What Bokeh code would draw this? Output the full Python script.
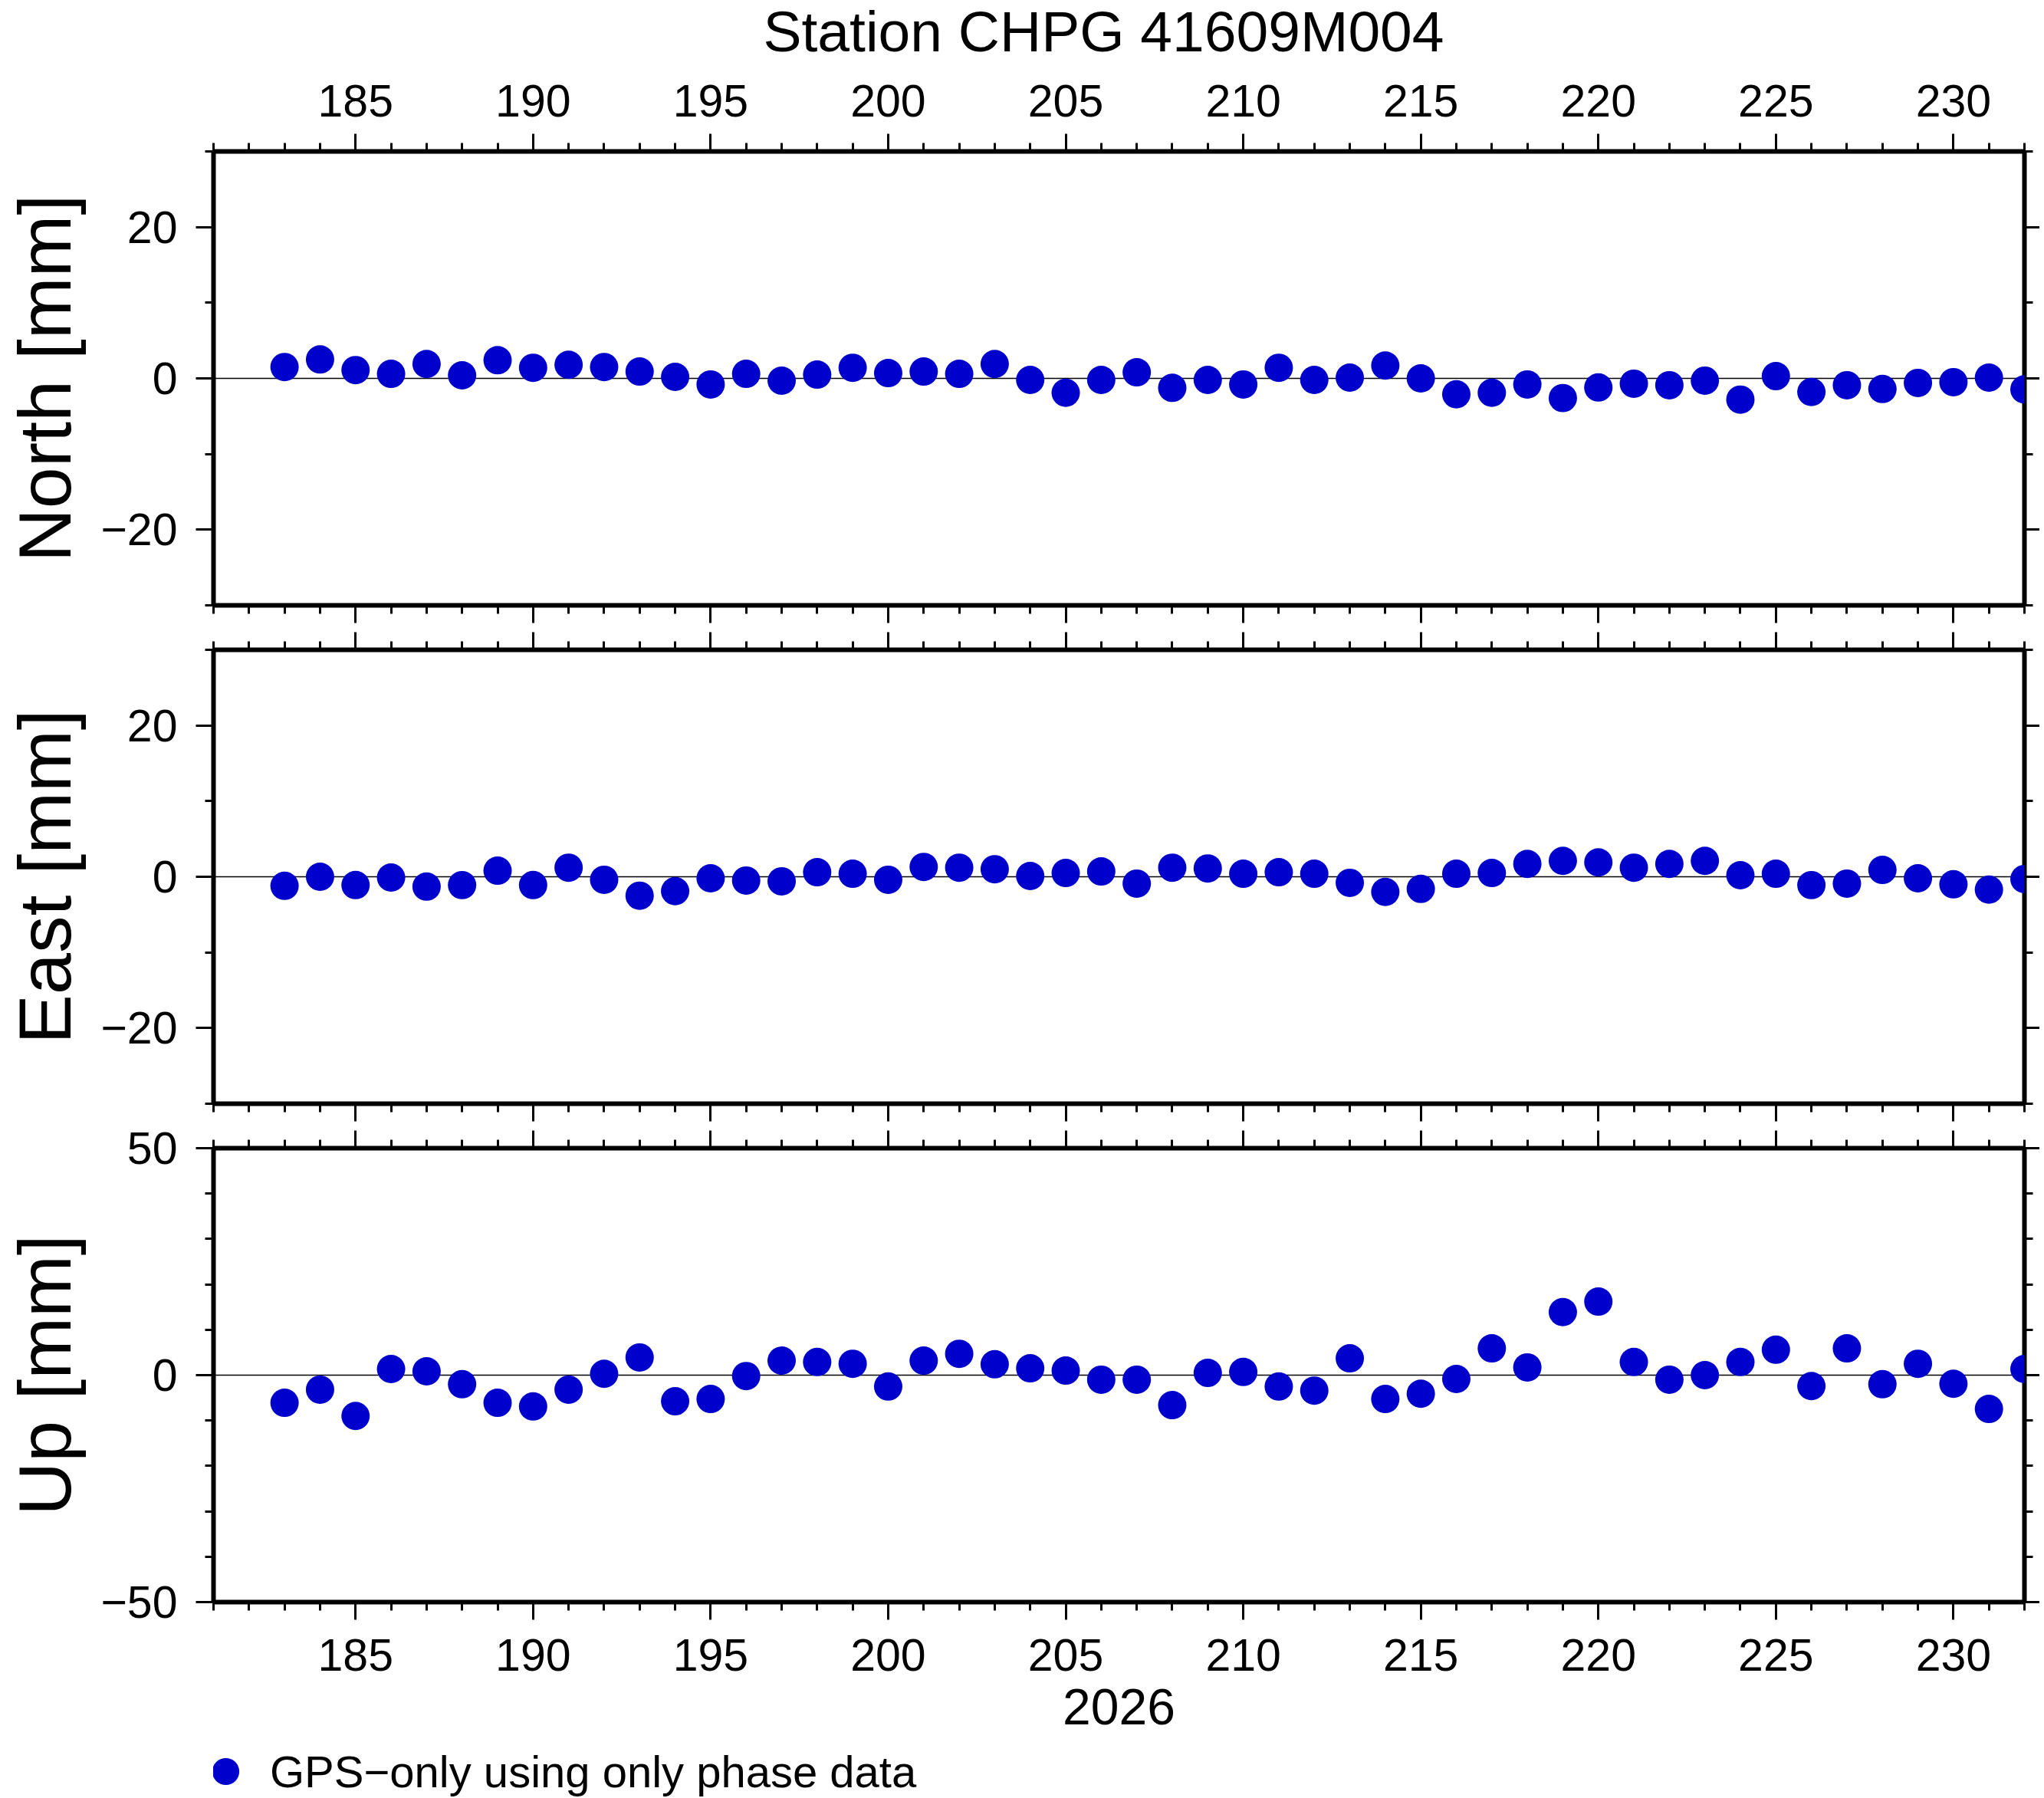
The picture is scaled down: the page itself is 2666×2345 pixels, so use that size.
from bokeh.plotting import figure
from bokeh.models import (Range1d, LinearAxis, SingleIntervalTicker, FixedTicker,
                          Span, Label, Legend, LegendItem)
from bokeh.layouts import column
from bokeh.embed import file_html
from bokeh.resources import INLINE

# ---------------- data ----------------
days = [183, 184, 185, 186, 187, 188, 189, 190, 191, 192, 193, 194, 195, 196, 197, 198, 199,
        200, 201, 202, 203, 204, 205, 206, 207, 208, 209, 210, 211, 212, 213, 214, 215, 216,
        217, 218, 219, 220, 221, 222, 223, 224, 225, 226, 227, 228, 229, 230, 231, 232]

north = [1.5, 2.5, 1.1, 0.6, 1.9, 0.4, 2.4, 1.4, 1.8, 1.5, 0.9, 0.2, -0.8, 0.6, -0.3, 0.5,
         1.4, 0.7, 0.9, 0.6, 1.9, -0.2, -1.9, -0.2,
         0.8, -1.25, -0.2, -0.8, 1.4, -0.2, 0.1, 1.7, 0.0, -2.1, -1.9, -0.8, -2.6, -1.2,
         -0.7, -0.9, -0.3, -2.8, 0.3, -1.8, -0.9, -1.4, -0.6, -0.5, 0.1, -1.45]

east = [-1.2, 0.0, -1.1, -0.1, -1.3, -1.1, 0.8, -1.1, 1.2, -0.4, -2.5, -1.9, -0.2, -0.5,
        -0.6, 0.6, 0.4, -0.4, 1.3, 1.2, 1.0, 0.1, 0.5, 0.7,
        -0.9, 1.2, 1.1, 0.4, 0.6, 0.4, -0.8, -2.0, -1.6, 0.4, 0.5, 1.7, 2.1, 1.9, 1.2, 1.7,
        2.1, 0.2, 0.4, -1.1, -0.9, 0.9, -0.2, -1.0, -1.7, -0.3]

up = [-6.1, -3.2, -9.0, 1.35, 0.85, -2.0, -6.1, -6.9, -3.2, 0.3, 3.9, -5.75, -5.25, -0.2,
      3.2, 2.9, 2.5, -2.5, 3.2, 4.7, 2.4, 1.5, 1.0, -1.0,
      -1.0, -6.6, 0.5, 0.7, -2.5, -3.4, 3.7, -5.25, -4.1, -0.85, 5.9, 1.7, 13.9, 16.2, 2.9,
      -1.0, 0.0, 2.9, 5.6, -2.4, 5.9, -2.0, 2.5, -1.9, -7.45, 1.35]

ne_major = [-20, 0, 20]
ne_minor = [-30, -10, 10, 30]
ne_labels = {-20: "\u221220", 0: "0", 20: "20"}
up_major = [-50, 0, 50]
up_minor = [-40, -30, -20, -10, 10, 20, 30, 40]
up_labels = {-50: "\u221250", 0: "0", 50: "50"}

title_text = "Station CHPG 41609M004"
x_title = "2026"
legend_text = "GPS\u2212only using only phase data"

# ---------------- style / layout ----------------
FONT = "Liberation Sans"
BLUE = "#0000CC"
W = 2660
ML = 278
FRAME_W = 2362
MR = W - ML - FRAME_W
FRAME_H = 592
TITLE_H = 84
P3_BOTTOM = 186
LEG_H = 2344 - (TITLE_H + (197 - TITLE_H) + FRAME_H + 29) - (29 + FRAME_H + 24) - (34 + FRAME_H + P3_BOTTOM)

xr = Range1d(181, 232)


def tick_style(ax, out_major=23, out_minor=11):
    ax.axis_line_color = None
    ax.major_tick_in = 0
    ax.minor_tick_in = 0
    ax.major_tick_out = out_major
    ax.minor_tick_out = out_minor
    ax.major_tick_line_width = 3
    ax.minor_tick_line_width = 3
    ax.major_tick_line_color = "black"
    ax.minor_tick_line_color = "black"


def no_labels(ax):
    ax.major_label_text_font_size = "0px"
    ax.major_label_text_color = None
    ax.major_label_standoff = 0


def strip(height):
    s = figure(width=W, height=height, x_range=xr, output_backend="svg",
               toolbar_location=None, x_axis_location=None, y_axis_location=None,
               min_border_left=ML, min_border_right=MR, min_border_top=0,
               min_border_bottom=0)
    s.grid.visible = False
    s.outline_line_color = None
    s.background_fill_color = "white"
    s.border_fill_color = "white"
    return s


def make_panel(vals, ylo, yhi, ymaj, ymin, ylabels, ylabel, top_b, bot_b,
               top_labels=False, bottom_labels=False):
    p = figure(width=W, height=top_b + FRAME_H + bot_b, x_range=xr,
               y_range=Range1d(ylo, yhi), output_backend="svg",
               toolbar_location=None, x_axis_location=None, y_axis_location=None,
               min_border_left=ML, min_border_right=MR,
               min_border_top=top_b, min_border_bottom=bot_b)
    p.grid.visible = False
    p.outline_line_color = "black"
    p.outline_line_width = 6
    p.outline_line_alpha = 1.0
    p.background_fill_color = "white"
    p.border_fill_color = "white"

    # x axes
    for side, lab in (("above", top_labels), ("below", bottom_labels)):
        ax = LinearAxis(ticker=SingleIntervalTicker(interval=5, num_minor_ticks=5))
        tick_style(ax)
        if lab:
            ax.major_label_text_font = FONT
            ax.major_label_text_font_size = "59px"
            ax.major_label_text_color = "black"
            ax.major_label_standoff = 23 if side == "above" else 25
        else:
            no_labels(ax)
        p.add_layout(ax, side)

    # left axis
    ly = LinearAxis(ticker=FixedTicker(ticks=ymaj, minor_ticks=ymin))
    tick_style(ly)
    ly.major_label_overrides = ylabels
    ly.major_label_text_font = FONT
    ly.major_label_text_font_size = "59px"
    ly.major_label_text_color = "black"
    ly.major_label_standoff = 24
    ly.axis_label = ylabel
    ly.axis_label_text_font = FONT
    ly.axis_label_text_font_size = "97px"
    ly.axis_label_text_font_style = "normal"
    ly.axis_label_text_color = "black"
    ly.axis_label_standoff = 15
    p.add_layout(ly, "left")

    # right axis (ticks only)
    ry = LinearAxis(ticker=FixedTicker(ticks=ymaj, minor_ticks=ymin))
    tick_style(ry, out_major=MR, out_minor=11)
    no_labels(ry)
    p.add_layout(ry, "right")

    p.add_layout(Span(location=0, dimension="width", line_color="black",
                      line_width=1.5, level="underlay"))
    r = p.scatter(days, vals, size=37, marker="circle", fill_color=BLUE,
                  line_color=None)
    return p, r


# title strip
p0 = strip(TITLE_H)
p0.add_layout(Label(x=1161, y=44, x_units="screen", y_units="screen",
                    text=title_text, text_font=FONT, text_font_size="75px",
                    text_color="black", text_align="center",
                    text_baseline="alphabetic"))

p1, _ = make_panel(north, -30, 30, ne_major, ne_minor, ne_labels, "North [mm]",
                   197 - TITLE_H, 29, top_labels=True)
p2, _ = make_panel(east, -30, 30, ne_major, ne_minor, ne_labels, "East [mm]", 29, 24)
p3, r3 = make_panel(up, -50, 50, up_major, up_minor, up_labels, "Up [mm]", 34, P3_BOTTOM,
                    bottom_labels=True)

# x title on the lowest panel
bx = p3.below[0]
bx.axis_label = x_title
bx.axis_label_text_font = FONT
bx.axis_label_text_font_size = "66px"
bx.axis_label_text_font_style = "normal"
bx.axis_label_text_color = "black"
bx.axis_label_standoff = 21

# legend strip: the Up series is bound to a y window it never reaches, so only
# its legend entry is visible here
p4 = strip(LEG_H)
p4.y_range = Range1d(1000, 1001)
r4 = p4.scatter(days, up, size=37, marker="circle", fill_color=BLUE, line_color=None)
leg = Legend(items=[LegendItem(label=legend_text, renderers=[r4])],
             location=(-28, -10), orientation="horizontal",
             glyph_width=88, glyph_height=88, padding=0, margin=0,
             label_standoff=14, label_text_font=FONT, label_text_font_size="58px",
             label_text_color="black", border_line_color=None,
             background_fill_alpha=0.0)
p4.add_layout(leg, "center")

layout = column(p0, p1, p2, p3, p4)
open("out.html", "w").write(file_html(layout, INLINE))
